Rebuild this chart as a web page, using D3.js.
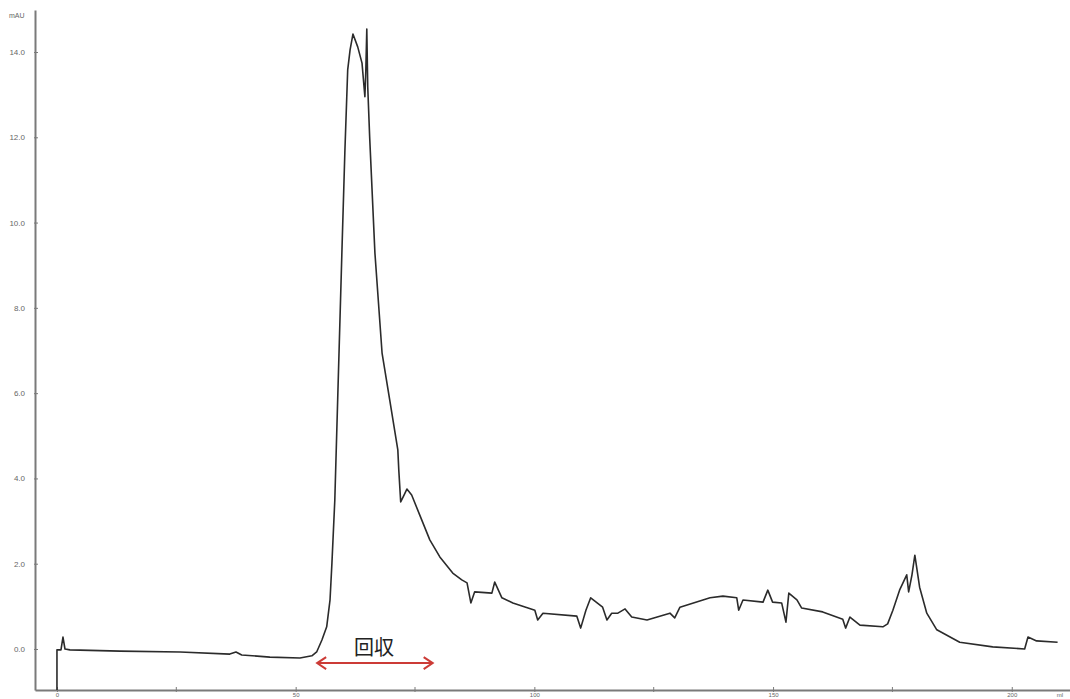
<!DOCTYPE html>
<html lang="ja">
	<head>
		<meta charset="utf-8">
		<title>Chromatogram</title>
		<script type="text/javascript" src="https://cdn.jsdelivr.net/npm/d3@7"></script>
		<style type="text/css">
			body {
				margin: 0;
				background: #fff;
			}
			.axis path,
			.axis line {
				stroke: #7a7a7a;
			}
			.axis text {
				font-family: "Liberation Sans", Arial, sans-serif;
				font-size: 8px;
				fill: #666;
			}
			.x.axis text {
				font-size: 6px;
			}
			.unit {
				font-family: "Liberation Sans", Arial, sans-serif;
				font-size: 7px;
				fill: #666;
			}
			.note {
				font-family: "Noto Sans CJK JP", sans-serif;
				font-size: 20px;
				fill: #222;
			}
		</style>
	</head>
	<body>
		<script type="text/javascript">
			//Width and height
			var w = 1070;
			var h = 699;

			//Trace: volume (ml) and absorbance (mAU)
			var volume = [
				0, 0, 0.84, 1.26, 1.68, 2.72, 13.2, 25.8, 36.2, 37.5, 38.7, 44.6, 50.9, 53.4, 54.4,
				55.5, 56.5, 57.2, 57.6, 58.2, 58.8, 59.7, 60.3, 60.9, 61.4, 62.0, 63.0, 63.9, 64.5,
				64.7, 64.9, 65.1, 65.5, 66.6, 68.1, 69.7, 71.4, 71.6, 72.0, 72.7, 73.3, 74.3, 76.0,
				78.1, 80.2, 82.9, 84.8, 85.9, 86.7, 87.5, 91.1, 91.7, 93.2, 95.5, 100.1, 100.7, 101.8,
				108.9, 109.7, 110.8, 111.8, 114.3, 115.2, 116.2, 117.5, 119.0, 120.4, 123.6, 128.4,
				129.4, 130.5, 136.8, 139.5, 142.4, 142.8, 143.7, 147.9, 148.9, 149.9, 151.8, 152.7,
				153.3, 155.0, 156.0, 160.4, 164.6, 165.2, 166.1, 168.2, 173.0, 174.0, 175.1, 176.5,
				178.0, 178.4, 179.1, 179.7, 180.7, 182.2, 184.3, 189.1, 196.0, 202.7, 203.4, 205.2, 209.6
			];
			var absorbance = [
				-0.96, -0.02, -0.02, 0.28, 0.0, -0.02, -0.05, -0.07, -0.12, -0.07, -0.14, -0.19, -0.21, -0.16, -0.07,
				0.21, 0.52, 1.15, 2.02, 3.49, 5.84, 9.36, 11.63, 13.58, 14.05, 14.42, 14.12, 13.74, 12.95,
				13.58, 14.54, 13.18, 12.01, 9.29, 6.94, 5.84, 4.67, 4.20, 3.45, 3.61, 3.75, 3.61, 3.14,
				2.56, 2.16, 1.78, 1.62, 1.55, 1.08, 1.34, 1.31, 1.57, 1.20, 1.08, 0.91, 0.68, 0.84,
				0.77, 0.49, 0.91, 1.20, 0.98, 0.68, 0.84, 0.84, 0.94, 0.75, 0.68, 0.84,
				0.73, 0.98, 1.20, 1.24, 1.20, 0.91, 1.15, 1.10, 1.38, 1.10, 1.08, 0.63,
				1.31, 1.15, 0.96, 0.87, 0.70, 0.49, 0.75, 0.56, 0.52, 0.59, 0.91, 1.38,
				1.74, 1.34, 1.74, 2.20, 1.45, 0.84, 0.45, 0.16, 0.05, 0.0, 0.28, 0.19, 0.16
			];

			//Axis ticks
			var xMajorTicks = [0, 50, 100, 150, 200];
			var xMinorTicks = [25, 75, 125, 175];
			var yTicks = [0, 2, 4, 6, 8, 10, 12, 14];

			//Collected fraction annotation
			var collectLabel = "回収";
			var collectRange = [54.5, 78.7];
			var collectLevel = -0.33;

			var dataset = volume.map(function(v, i) { return [v, absorbance[i]]; });

			//Create scale functions
			var xScale = d3.scaleLinear()
				.domain([-4.6, 212.2])
				.range([35, 1070]);

			var yScale = d3.scaleLinear()
				.domain([-0.9615, 14.985])
				.range([690, 10]);

			var svg = d3.select("body")
				.append("svg")
				.attr("width", w)
				.attr("height", h);

			//Y axis
			var yAxis = d3.axisLeft(yScale)
				.tickValues(yTicks)
				.tickFormat(d3.format(".1f"))
				.tickSizeInner(3)
				.tickSizeOuter(0)
				.tickPadding(7);

			var gy = svg.append("g")
				.attr("class", "y axis")
				.attr("transform", "translate(" + xScale.range()[0] + ",0)")
				.call(yAxis);
			gy.select(".domain").attr("stroke-width", 2);
			gy.selectAll(".tick line").attr("x2", 3).attr("x1", -1);

			svg.append("text")
				.attr("class", "unit")
				.attr("x", 9)
				.attr("y", 18)
				.text("mAU");

			//X axis
			var xAxis = d3.axisBottom(xScale)
				.tickValues(xMajorTicks)
				.tickSizeInner(3)
				.tickSizeOuter(0)
				.tickPadding(1);

			var gx = svg.append("g")
				.attr("class", "x axis")
				.attr("transform", "translate(0," + yScale.range()[0] + ")")
				.call(xAxis);
			gx.select(".domain").attr("stroke-width", 2);
			gx.selectAll(".tick line").attr("y1", -3).attr("y2", 2);
			gx.selectAll(".tick text").attr("y", 2.5);

			gx.selectAll(".minor")
				.data(xMinorTicks)
				.enter()
				.append("line")
				.attr("class", "minor")
				.attr("x1", function(d) { return xScale(d); })
				.attr("x2", function(d) { return xScale(d); })
				.attr("y1", -3)
				.attr("y2", 2);

			gx.append("text")
				.attr("x", 1060)
				.attr("y", 2.5)
				.attr("dy", "0.71em")
				.attr("text-anchor", "middle")
				.text("ml");

			//Trace
			var line = d3.line()
				.x(function(d) { return xScale(d[0]); })
				.y(function(d) { return yScale(d[1]); });

			svg.append("path")
				.datum(dataset)
				.attr("d", line)
				.attr("fill", "none")
				.attr("stroke", "#2b2b2b")
				.attr("stroke-width", 1.6)
				.attr("stroke-linejoin", "round");

			//Red double arrow
			var red = "#cc3b36";
			var ay = yScale(collectLevel);
			var ax1 = xScale(collectRange[0]);
			var ax2 = xScale(collectRange[1]);

			svg.append("line")
				.attr("x1", ax1)
				.attr("x2", ax2)
				.attr("y1", ay)
				.attr("y2", ay)
				.attr("stroke", red)
				.attr("stroke-width", 2);

			svg.append("path")
				.attr("d", "M" + (ax1 + 9) + "," + (ay - 6) + "L" + ax1 + "," + ay + "L" + (ax1 + 9) + "," + (ay + 6))
				.attr("fill", "none")
				.attr("stroke", red)
				.attr("stroke-width", 2);

			svg.append("path")
				.attr("d", "M" + (ax2 - 9) + "," + (ay - 6) + "L" + ax2 + "," + ay + "L" + (ax2 - 9) + "," + (ay + 6))
				.attr("fill", "none")
				.attr("stroke", red)
				.attr("stroke-width", 2);

			svg.append("text")
				.attr("class", "note")
				.attr("x", (ax1 + ax2) / 2 - 1)
				.attr("y", ay - 8)
				.attr("text-anchor", "middle")
				.text(collectLabel);
		</script>
	</body>
</html>
